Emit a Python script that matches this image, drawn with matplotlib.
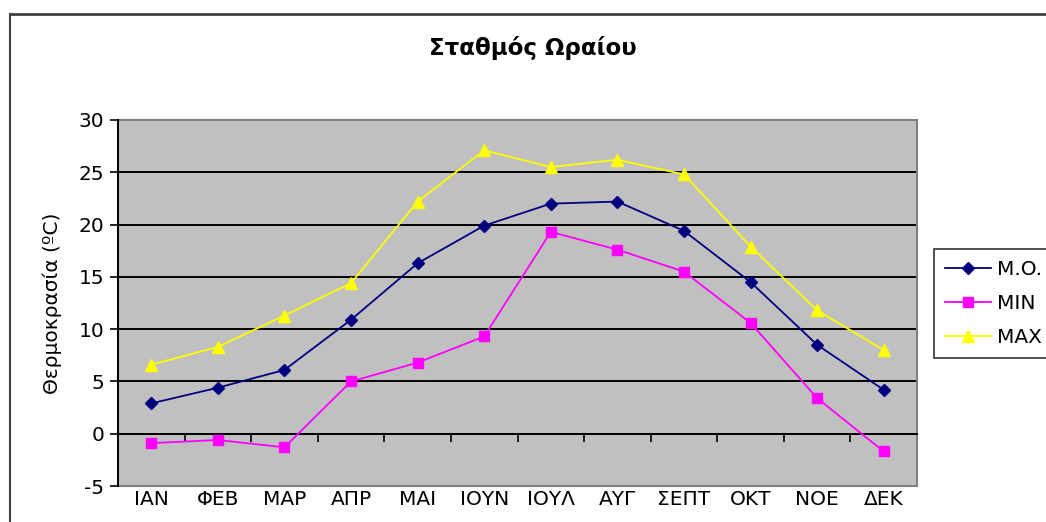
import numpy as np
import matplotlib.pyplot as plt
from matplotlib.patches import Rectangle
from matplotlib.lines import Line2D

plt.rcParams['font.family'] = ['DejaVu Sans']
plt.rcParams['axes.unicode_minus'] = False

months = ['ΙΑΝ', 'ΦΕΒ', 'ΜΑΡ', 'ΑΠΡ', 'ΜΑΙ', 'ΙΟΥΝ', 'ΙΟΥΛ', 'ΑΥΓ', 'ΣΕΠΤ', 'ΟΚΤ', 'ΝΟΕ', 'ΔΕΚ']
t_mean = [2.9, 4.4, 6.1, 10.9, 16.3, 19.9, 22.0, 22.2, 19.4, 14.5, 8.5, 4.2]
t_min = [-0.9, -0.6, -1.3, 5.0, 6.8, 9.3, 19.3, 17.6, 15.5, 10.6, 3.4, -1.7]
t_max = [6.6, 8.3, 11.3, 14.4, 22.2, 27.1, 25.5, 26.2, 24.8, 17.9, 11.8, 8.0]
yticks = [-5, 0, 5, 10, 15, 20, 25, 30]

fs = 14.5

fig = plt.figure(figsize=(10.46, 5.22), dpi=100)
ax = fig.add_axes([118/1046, 1-486/522, (917-118)/1046, (486-120)/522])
ax.set_facecolor('#c0c0c0')

x = np.arange(len(months))
ax.set_xlim(-0.5, len(months) - 0.5)
ax.set_ylim(-5, 30)

# grid + frame
ax.set_yticks(yticks)
ax.yaxis.grid(True, color='black', lw=1.4)
ax.set_axisbelow(True)
for s in ['top', 'right']:
    ax.spines[s].set_visible(False)
ax.add_patch(Rectangle((0, 0), 1, 1, transform=ax.transAxes, fill=False,
                       edgecolor='#808080', lw=1.5, zorder=1.5, clip_on=False))
ax.spines['left'].set_color('black')
ax.spines['left'].set_linewidth(1.4)
ax.spines['left'].set_zorder(2.5)
ax.spines['bottom'].set_position(('data', 0))
ax.spines['bottom'].set_color('black')
ax.spines['bottom'].set_linewidth(1.4)

ax.tick_params(axis='y', direction='out', length=6, width=1.2, labelsize=fs, pad=4)
ax.set_xticks(np.arange(len(months) + 1) - 0.5)
ax.set_xticklabels([])
ax.tick_params(axis='x', direction='out', length=6, width=1.2)
for i, m in enumerate(months):
    ax.text(i, -0.012, m, transform=ax.get_xaxis_transform(), ha='center', va='top', fontsize=fs)

l1, = ax.plot(x, t_mean, color='#000080', lw=1.3, marker='D', ms=6, label='M.O.', zorder=3)
l2, = ax.plot(x, t_min, color='#ff00ff', lw=1.3, marker='s', ms=6.5, label='MIN', zorder=3)
l3, = ax.plot(x, t_max, color='#ffff00', lw=1.3, marker='^', ms=8, label='MAX', zorder=3)

ax.set_ylabel('Θερμοκρασία (ºC)', fontsize=fs, labelpad=12)

fig.text(533/1046, 1-48/522, 'Σταθμός Ωραίου', ha='center', va='center', fontsize=16.5, fontweight='bold')

leg = fig.legend(handles=[l1, l2, l3], loc='lower left', bbox_to_anchor=(934/1046, 1-358/522),
                 frameon=True, fancybox=False, edgecolor='black', fontsize=fs,
                 handlelength=2.3, handletextpad=0.3, borderpad=0.55, labelspacing=0.75, borderaxespad=0)
leg.get_frame().set_linewidth(1.2)

# outer chart border
fig.add_artist(Line2D([10/1046, 1.01], [1-14/522, 1-14/522], transform=fig.transFigure, color='#404040', lw=2))
fig.add_artist(Line2D([10/1046, 10/1046], [-0.01, 1-14/522], transform=fig.transFigure, color='#404040', lw=1.5))

fig.savefig('out.png', dpi=100)
